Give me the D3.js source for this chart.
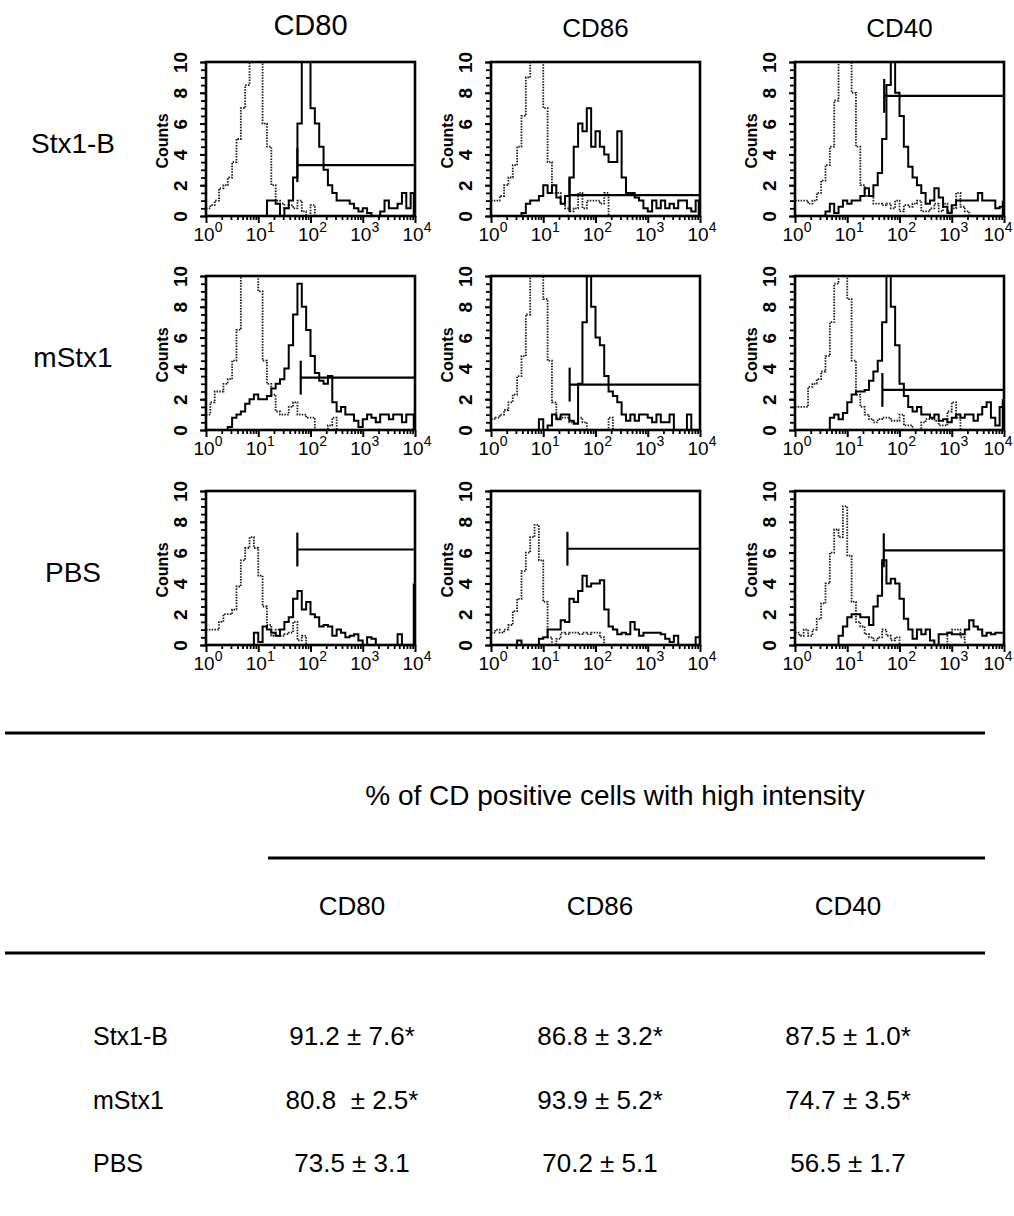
<!DOCTYPE html>
<html>
<head>
<meta charset="utf-8">
<script src="https://cdn.jsdelivr.net/npm/d3@7"></script>
<style>
  html, body { margin: 0; padding: 0; background: #fff; }
  svg { display: block; font-family: "Liberation Sans", Arial, sans-serif; }
</style>
</head>
<body>
<div id="chart"></div>
<script>
const markers = ["CD80", "CD86", "CD40"];
const treatments = ["Stx1-B", "mStx1", "PBS"];
const countTicks = [0, 2, 4, 6, 8, 10];
const decades = [0, 1, 2, 3, 4];
const binsPerDecade = 12;

// dotted histograms (isotype control), 48 log bins from 10^0 to 10^4
const ctrlStx1bCD80 = [0.5,0.7,1,1.8,2,2.5,3.5,5,7,8.5,10,10,10,6,4.5,2,1,0.8,0.5,0.7,0.5,1,0.3,0,0.7,0,0,0,0,0,0,0,0,0,0,0,0,0,0,0,0,0,0,0,0,0,0,0];
const ctrlStx1bCD86 = [1,1,1.3,2,2.5,3.3,4.5,6.5,9,10,10,10,7,3.5,1.5,1.5,0.8,0.5,0.3,0.5,1.5,0.5,1,1,1,0.8,1.5,0,0,0,0,0,0,0,0,0,0,0,0,0,0,0,0,0,0,0,0,0];
const ctrlStx1bCD40 = [1,1,1,0.8,1,1.5,2.3,3.3,4.5,7.5,10,10,10,8,4.5,2,1.3,1.3,0.8,0.8,0.7,0.8,0.5,1,0.3,0.7,0.6,0.8,1,0.3,0.3,0.5,0.8,0.3,0.8,0.3,0.5,1.5,0.6,0.3,0,0,0,0,0,0,0,0];
const ctrlMstx1CD80 = [1,1.8,2.5,2.5,3,3.3,4.5,6.5,10,10,10,10,9,4.5,3,2.3,1.2,1,1,1.5,1.8,1,1,0.8,0.8,0,0,0,0.3,0.8,0,0,0,0,0,0,0,0,0,0,0,0,0,0,0,0,0,0];
const ctrlMstx1CD86 = [0.7,0.8,1,1.3,1.8,2.3,3.5,4.8,7.5,10,10,10,8.5,4.5,1.8,0.8,0.8,0.8,0.5,0.5,0.8,0.5,0,0,0,0,0,0.8,0,0,0,0,0,0,0,0,0,0,0,0,0,0,0,0,0,0,0,0];
const ctrlMstx1CD40 = [1.5,1.5,1.5,2.8,3,3.3,3.8,4.8,7,9.5,10,10,8.5,4.5,2.3,1.5,1,0.7,0.5,0.7,0.8,0.8,0.6,0.6,1,0.3,0.3,0,0,0.5,0.7,0.7,0.6,0.3,0.3,1.2,1.8,0.8,0,0,0,0,0,0,0,0,0,0];
const ctrlPbsCD80 = [1,1,1,1.5,2,2,2.3,3.8,5.5,6.3,7,6.3,4.5,2.5,1.3,0.6,1,0.6,0.7,0.8,1.5,0.3,0.6,0,0,0,0,0,0,0,0,0,0,0,0,0,0,0,0,0,0,0,0,0,0,0,0,0];
const ctrlPbsCD86 = [0.8,1,0.8,1,1.3,2.2,3,4.8,6,7,7.8,5.5,2.8,0.5,0,0.4,0.8,0.7,0.8,0.8,0.7,0.8,0.7,0.8,0.8,0.5,0,0,0,0,0,0,0,0,0,0,0,0,0,0,0,0,0,0,0,0,0,0];
const ctrlPbsCD40 = [0.8,0.6,1,0.6,1,1.7,2.7,4,6,7.5,7,9,5.8,2.8,1.5,1.2,0.7,0.5,0.3,0.5,1,0.6,0.3,0.5,0,0,0,0,0,0,0,0,0,0,0,0.8,1,1,0.5,0,0,0,0,0,0,0,0,0];

// solid histograms (stained cells)
const cellsStx1bCD80 = [0,0,0,0,0,0,0,0,0,0,0,0,0,0,1,1,0.8,0,0.5,1,2.5,6,10,10,7,6,4.5,3,2,1.5,1,1,1,0.8,0.5,0.3,0.5,0.2,0,0,0.3,1,0.5,0.5,0.8,1.5,0.5,1.5];
const cellsStx1bCD86 = [0,0,0,0,0,0,0,0.2,0.8,1,1,1.3,2,1.5,2,1.2,0.8,1.3,2.5,4.5,6,5.5,7,4.5,5.5,4.5,4,3.5,3.5,5.5,2.5,1.5,1.5,1.2,1,0.5,0.3,1,0.5,1,0.5,0.8,0.5,1,1,0.5,0.3,1];
const cellsStx1bCD40 = [0,0,0,0,0,0,0,0.3,0.8,0.2,0.6,1,0.8,1,1,1.3,1.8,1.3,2,2.8,5,8.5,10,8,6.5,4.5,3.2,2.5,2,1.5,0.8,1,1.8,1.2,0.6,0.2,0.7,1,1,1,1,1,1.5,1,1,1,0.5,0.6];
const cellsMstx1CD80 = [0,0,0,0,0,0.2,0.8,1,1.2,1.7,2,2.3,2,2,2.2,2.7,3,3.3,4,5.5,7.5,9.5,8,6.5,4.8,3.7,3.2,3,3.5,1.8,1.2,1.5,1,1,0.6,0.2,0.7,1,0.8,0.5,1,1,0.7,1,1,0.5,1,1];
const cellsMstx1CD86 = [0,0,0,0,0,0,0,0,0,0,0,0.7,0,0.3,1,0.7,1,1,0.6,0.4,3,7,10,8,6,5.5,3.5,2.5,2.2,1.8,1,0.6,1,0.6,1,1,0.8,0.5,1,0.5,0.5,1,0,0,0,1,0,0];
const cellsMstx1CD40 = [0,0,0,0,0,0,0,0,0.8,1,0.7,1.1,1.8,2.3,2.5,2.5,2.6,3.2,3.8,4.5,7,10,8,5.5,3,2.2,1.5,1.2,1.5,1,1,0.8,1,0.6,0.7,0.5,0.8,1,0.8,1,1,0.6,1,1.5,1.8,0.8,0.3,1.5];
const cellsPbsCD80 = [0,0,0,0,0,0,0,0,0,0,0,0.8,0.2,1.2,1,0.8,0.6,1,1.5,1.8,3,3.5,2.3,2.8,2,1.8,1.2,1.3,1.2,0.6,1,0.8,0.5,0.6,0.7,0.3,0,0.5,0.4,0,0,0,0,0,0.7,0,0,0];
const cellsPbsCD86 = [0,0,0,0,0,0,0.3,0,0,0,0,0.4,0.5,1,1,1,1.6,1.5,3,2.8,3.5,4.5,3.8,4,4,4.2,2.3,1.2,1,0.7,0.8,0.7,1.5,1,0.6,0.8,0.8,0.8,0.8,0.7,0.4,0.2,0.6,0,0,0,0,0.5];
const cellsPbsCD40 = [0,0,0,0,0,0,0,0,0,0,0.6,1.2,1.8,2,2,1.8,1.8,1.3,2.5,3.2,5.5,4,4.3,4,3,1.7,1,0.4,1,0.7,1,0.3,0,0.7,0.7,0.8,0.7,0.7,0.7,1,1.6,1.2,1,0.6,0.8,0.7,0.8,0.8];

// counts piled up in the very last channel (10^4)
const lastChannelCount = [[1.5, 1, 1], [1, 0, 2], [4, 0, 0]];

// gate markers: start intensity and height in counts
const gateStart = [[56, 32, 51], [65, 32, 47], [56, 29, 50]];
const gateLevel = [[3.3, 1.35, 7.8], [3.4, 2.95, 2.6], [6.2, 6.25, 6.15]];

const controlCounts = [
  [ctrlStx1bCD80, ctrlStx1bCD86, ctrlStx1bCD40],
  [ctrlMstx1CD80, ctrlMstx1CD86, ctrlMstx1CD40],
  [ctrlPbsCD80, ctrlPbsCD86, ctrlPbsCD40]
];
const cellCounts = [
  [cellsStx1bCD80, cellsStx1bCD86, cellsStx1bCD40],
  [cellsMstx1CD80, cellsMstx1CD86, cellsMstx1CD40],
  [cellsPbsCD80, cellsPbsCD86, cellsPbsCD40]
];

// table below the histograms
const tableTitle = "% of CD positive cells with high intensity";
const cellText = [
  ["91.2 ± 7.6*", "86.8 ± 3.2*", "87.5 ± 1.0*"],
  ["80.8  ± 2.5*", "93.9 ± 5.2*", "74.7 ± 3.5*"],
  ["73.5 ± 3.1", "70.2 ± 5.1", "56.5 ± 1.7"]
];

const width = 1014, height = 1216;
const svg = d3.select("#chart").append("svg")
  .attr("width", width)
  .attr("height", height);
svg.append("rect").attr("width", width).attr("height", height).attr("fill", "#fff");

const colLeft = [206, 491, 795];
const rowTop = [62, 276, 491];
const pw = 209, ph = 154;

const x = d3.scaleLog().domain([1, 1e4]).range([0, pw]);
const y = d3.scaleLinear().domain([0, 10]).range([ph, 0]).clamp(true);

const binEdge = i => Math.pow(10, i / binsPerDecade);
const toSteps = counts => {
  const pts = counts.map((c, i) => [binEdge(i), c]);
  pts.push([1e4, counts[counts.length - 1]]);
  return pts;
};
const stepLine = d3.line()
  .x(d => x(d[0]))
  .y(d => y(d[1]))
  .curve(d3.curveStepAfter);

const minorX = [];
for (let k = 0; k < 4; k++) for (let m = 2; m <= 9; m++) minorX.push(m * Math.pow(10, k));

// column titles and row labels
markers.forEach((m, c) => {
  svg.append("text")
    .attr("x", colLeft[c] + pw / 2)
    .attr("y", c === 0 ? 35 : 37)
    .attr("text-anchor", "middle")
    .style("font-size", c === 0 ? "29px" : "26px")
    .text(m);
});
treatments.forEach((t, r) => {
  svg.append("text")
    .attr("x", 73)
    .attr("y", rowTop[r] + ph / 2 + 14)
    .attr("text-anchor", "middle")
    .style("font-size", "28px")
    .text(t);
});

treatments.forEach((t, r) => {
  markers.forEach((m, c) => {
    const g = svg.append("g").attr("transform", `translate(${colLeft[c]},${rowTop[r]})`);

    // y axis: minor + major ticks, rotated labels
    g.append("g")
      .call(d3.axisLeft(y).tickValues(d3.range(0, 10.01, 0.5)).tickSize(5).tickFormat(""))
      .call(a => a.select(".domain").remove())
      .call(a => a.selectAll("line").attr("stroke-width", 1.8));
    g.append("g")
      .call(d3.axisLeft(y).tickValues(countTicks).tickSize(6).tickFormat(d3.format("d")))
      .call(a => a.select(".domain").remove())
      .call(a => a.selectAll("line").attr("stroke-width", 2))
      .call(a => a.selectAll("text")
        .attr("transform", "rotate(-90)")
        .attr("x", 0)
        .attr("y", -26)
        .attr("dy", "0.36em")
        .attr("text-anchor", "middle")
        .attr("fill", "#000")
        .style("font-size", "19px")
        .style("font-weight", "bold")
        .style("font-family", "'Liberation Sans', Arial, sans-serif"));

    g.append("text")
      .attr("transform", `translate(-44,${ph / 2 + 2}) rotate(-90)`)
      .attr("dy", "0.36em")
      .attr("text-anchor", "middle")
      .style("font-size", "16px")
      .style("font-weight", "bold")
      .text("Counts");

    // x axis: log ticks, labels 10^k
    g.append("g")
      .attr("transform", `translate(0,${ph})`)
      .call(d3.axisBottom(x).tickValues(minorX).tickSize(4).tickFormat(""))
      .call(a => a.select(".domain").remove())
      .call(a => a.selectAll("line").attr("stroke-width", 1.8));
    g.append("g")
      .attr("transform", `translate(0,${ph})`)
      .call(d3.axisBottom(x).tickValues(decades.map(d => Math.pow(10, d))).tickSize(7).tickFormat(""))
      .call(a => a.select(".domain").remove())
      .call(a => a.selectAll("line").attr("stroke-width", 2));

    // keep the last label of the right-hand column inside the page
    const edgeShift = d => (c === 2 && d === 4 ? -8 : 0);
    const lab = g.selectAll(".xlab").data(decades).enter().append("text")
      .attr("class", "xlab")
      .attr("x", d => x(Math.pow(10, d)) + 2 + edgeShift(d))
      .attr("y", ph + 25)
      .attr("text-anchor", "middle");
    lab.append("tspan").style("font-size", "19px").text("10");
    lab.append("tspan").style("font-size", "14px").attr("dy", -9).text(d => d);

    // histograms
    g.append("path")
      .attr("d", stepLine(toSteps(controlCounts[r][c])))
      .attr("fill", "none")
      .attr("stroke", "#1a1a1a")
      .attr("stroke-width", 1.8)
      .attr("stroke-dasharray", "1.5 1.3");
    g.append("path")
      .attr("d", stepLine(toSteps(cellCounts[r][c])))
      .attr("fill", "none")
      .attr("stroke", "#000")
      .attr("stroke-width", 2);

    const spike = lastChannelCount[r][c];
    if (spike > 0) {
      g.append("line")
        .attr("x1", pw - 1).attr("x2", pw - 1)
        .attr("y1", y(0)).attr("y2", y(spike))
        .attr("stroke", "#000").attr("stroke-width", 2.5);
    }

    // gate marker
    const gx = x(gateStart[r][c]), gl = gateLevel[r][c];
    g.append("line")
      .attr("x1", gx).attr("x2", pw)
      .attr("y1", y(gl)).attr("y2", y(gl))
      .attr("stroke", "#000").attr("stroke-width", 2.2);
    g.append("line")
      .attr("x1", gx).attr("x2", gx)
      .attr("y1", y(gl - 1.1)).attr("y2", y(gl + 1.1))
      .attr("stroke", "#000").attr("stroke-width", 2.2);

    // frame
    g.append("rect")
      .attr("width", pw).attr("height", ph)
      .attr("fill", "none")
      .attr("stroke", "#000")
      .attr("stroke-width", 2.6);
  });
});

// table
const rule = (x1, x2, yy) => svg.append("line")
  .attr("x1", x1).attr("x2", x2).attr("y1", yy).attr("y2", yy)
  .attr("stroke", "#000").attr("stroke-width", 3);
rule(5, 985, 733);
rule(268, 985, 858);
rule(5, 985, 953);

svg.append("text")
  .attr("x", 615).attr("y", 805)
  .attr("text-anchor", "middle")
  .style("font-size", "28px")
  .text(tableTitle);

const colX = d3.scalePoint().domain(markers).range([352, 848]);
const rowY = d3.scalePoint().domain(treatments).range([1045, 1172]);

svg.selectAll(".thead").data(markers).enter().append("text")
  .attr("class", "thead")
  .attr("x", d => colX(d))
  .attr("y", 915)
  .attr("text-anchor", "middle")
  .style("font-size", "26px")
  .text(d => d);

treatments.forEach((t, r) => {
  svg.append("text")
    .attr("x", 93).attr("y", rowY(t))
    .style("font-size", "25px")
    .text(t);
  markers.forEach((m, c) => {
    svg.append("text")
      .attr("x", colX(m)).attr("y", rowY(t))
      .attr("text-anchor", "middle")
      .style("font-size", "26px")
      .style("white-space", "pre")
      .text(cellText[r][c]);
  });
});
</script>
</body>
</html>
